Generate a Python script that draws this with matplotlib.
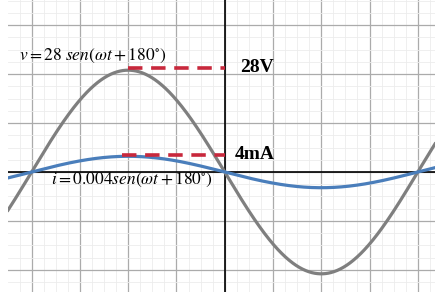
import numpy as np
import matplotlib
matplotlib.use("Agg")
import matplotlib.pyplot as plt
from matplotlib.ticker import MultipleLocator

# Data
v_amplitude = 28.0          # V
i_amplitude = 0.004         # A
phase_deg = 180.0           # degrees
i_display_scale = 1080.0    # display units per A (current drawn to this scale)
v_label = r"$v = 28\ sen(\omega t + 180^{\circ})$"
i_label = r"$i = 0.004sen(\omega t + 180^{\circ})$"
peak_labels = ["28V", "4mA"]
peak_levels = [28.6, 4.7]      # display units of the red dashed markers
peak_starts = [-90.0, -96.0]   # degrees where the dashed markers start

x_major = 45.0
y_major = 13.46
xlim = (-202.0, 196.0)
ylim = (-33.0, 47.3)

plt.rcParams["mathtext.fontset"] = "stix"

wt = np.linspace(xlim[0], xlim[1], 800)
v = v_amplitude * np.sin(np.radians(wt + phase_deg))
i = i_amplitude * i_display_scale * np.sin(np.radians(wt + phase_deg))

fig = plt.figure(figsize=(4.4, 3.0), dpi=100)
ax = fig.add_axes([8/440, 8/300, 427/440, 292/300])
ax.set_xlim(*xlim)
ax.set_ylim(*ylim)

ax.xaxis.set_major_locator(MultipleLocator(x_major))
ax.xaxis.set_minor_locator(MultipleLocator(x_major/4))
ax.yaxis.set_major_locator(MultipleLocator(y_major))
ax.yaxis.set_minor_locator(MultipleLocator(y_major/4))
ax.grid(which="major", color="#ababab", lw=0.9)
ax.grid(which="minor", color="#ececec", lw=0.6)
ax.set_axisbelow(True)
ax.tick_params(which="both", length=0, labelbottom=False, labelleft=False)
for s in ax.spines.values():
    s.set_visible(False)

ax.axhline(0, color="black", lw=1.2, zorder=2)
ax.axvline(0, color="black", lw=1.2, zorder=2)

ax.plot(wt, v, color="#7f7f7f", lw=2.3, zorder=3)
ax.plot(wt, i, color="#4a7ebb", lw=2.3, zorder=3)

text_x = {"28V": 14, "4mA": 9}
for lvl, start, lab in zip(peak_levels, peak_starts, peak_labels):
    ax.plot([start, 0], [lvl, lvl], color="#c8283c", lw=2.6,
            dashes=(4, 2.4), zorder=4)
    ax.text(text_x[lab], lvl, lab, fontsize=14, fontweight="bold",
            family="Liberation Serif", va="center", ha="left", zorder=5)

ax.text(-192, 31.8, v_label, fontsize=12.5, va="center", ha="left", zorder=5)
ax.text(-162, -2.3, i_label, fontsize=12.5, va="center", ha="left", zorder=5)

fig.savefig("out.png", dpi=100)
